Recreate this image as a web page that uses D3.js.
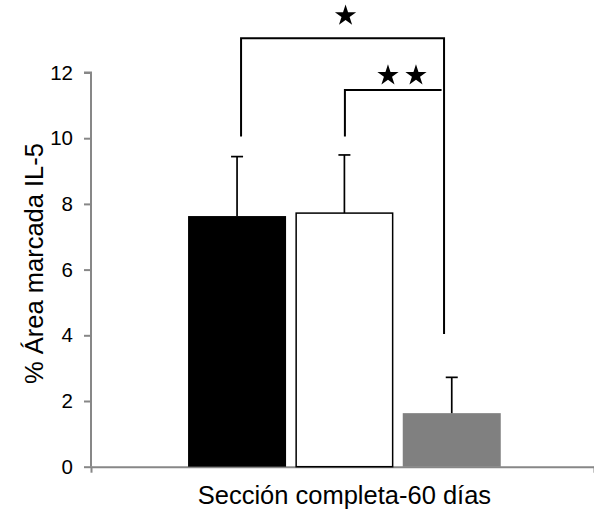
<!DOCTYPE html>
<html>
<head>
<meta charset="utf-8">
<script src="https://cdn.jsdelivr.net/npm/d3@7"></script>
<style>
  html, body { margin: 0; padding: 0; background: #fff; }
  svg { display: block; font-family: "Liberation Sans", Arial, sans-serif; }
</style>
</head>
<body>
<div id="chart"></div>
<script>
// data
const groups = ['Sección completa-60 días'];
const series = ['A', 'B', 'C'];
const means = [7.63, 7.72, 1.63];
const errors = [1.81, 1.77, 1.09];
const fills = ['#000000', '#ffffff', '#808080'];
const yTicks = [0, 2, 4, 6, 8, 10, 12];
const yLabel = '% Área marcada IL-5';
// significance brackets: from bar, to bar, bracket level, leg bottoms (in % units)
const brackets = [
  {from: 0, to: 2, level: 13.04, fromEnd: 10.05, toEnd: 4.04, stars: 1, markLevel: 13.73},
  {from: 1, to: 2, level: 11.47, fromEnd: 10.05, toEnd: 11.47, stars: 2, markLevel: 11.91}
];

const W = 594, H = 516;
const svg = d3.select('#chart').append('svg').attr('width', W).attr('height', H);

const x0 = d3.scaleBand().domain(groups).range([91, 594]).paddingInner(0).paddingOuter(0.3043).align(0.51);
const x1 = d3.scaleBand().domain(series).range([0, x0.bandwidth()]).paddingInner(0.087).paddingOuter(0);
const y = d3.scaleLinear().domain([0, 12]).range([466.7, 72.5]);

const axisColor = '#878787';

// y axis
const gy = svg.append('g').attr('transform', 'translate(91,0)')
  .call(d3.axisLeft(y).tickValues(yTicks).tickSize(7).tickPadding(11).tickFormat(d3.format('d')));
gy.selectAll('path, line').attr('stroke', axisColor).attr('stroke-width', 2);
gy.select('.domain').attr('d', `M-7,${y(12)}H0V${y(0)}`);
gy.selectAll('text').attr('font-size', 20.5).attr('fill', '#000')
  .attr('font-family', '"Liberation Sans", Arial, sans-serif');

// x axis: category boundaries
const xb = d3.scaleLinear().domain([0, 1]).range([91, 594]);
const gx = svg.append('g').attr('transform', `translate(0,${y(0)})`)
  .call(d3.axisBottom(xb).tickValues([0, 1]).tickSize(6).tickSizeOuter(0).tickFormat(''));
gx.selectAll('path, line').attr('stroke', axisColor).attr('stroke-width', 2);

svg.append('text')
  .attr('x', x0(groups[0]) + x0.bandwidth() / 2).attr('y', 504)
  .attr('text-anchor', 'middle').attr('font-size', 25.5).attr('fill', '#000')
  .text(groups[0]);

svg.append('text')
  .attr('transform', `translate(43,263.5) rotate(-90)`)
  .attr('text-anchor', 'middle').attr('font-size', 25.5).attr('fill', '#000')
  .text(yLabel);

// bars
const data = series.map((s, i) => ({s, i, v: means[i], e: errors[i], fill: fills[i]}));
const gBars = svg.append('g').attr('transform', `translate(${x0(groups[0])},0)`);

gBars.selectAll('rect').data(data).enter().append('rect')
  .attr('x', d => x1(d.s) + (d.i === 1 ? 0.75 : 0))
  .attr('width', d => x1.bandwidth() - (d.i === 1 ? 1.5 : 0))
  .attr('y', d => y(d.v))
  .attr('height', d => y(0) - y(d.v))
  .attr('fill', d => d.fill)
  .attr('stroke', d => d.i === 1 ? '#000' : 'none')
  .attr('stroke-width', 1.5);

// error bars (upper only)
const cx = d => x1(d.s) + x1.bandwidth() / 2;
gBars.selectAll('line.err').data(data).enter().append('line').attr('class', 'err')
  .attr('x1', cx).attr('x2', cx)
  .attr('y1', d => y(d.v)).attr('y2', d => y(d.v + d.e))
  .attr('stroke', '#000').attr('stroke-width', 1.7);
gBars.selectAll('line.cap').data(data).enter().append('line').attr('class', 'cap')
  .attr('x1', d => cx(d) - 6).attr('x2', d => cx(d) + 6)
  .attr('y1', d => y(d.v + d.e)).attr('y2', d => y(d.v + d.e))
  .attr('stroke', '#000').attr('stroke-width', 1.7);

// brackets
const legShift = [4, 0.5, -7.7];
const legX = i => x0(groups[0]) + x1(series[i]) + x1.bandwidth() / 2 + legShift[i];
const gBr = svg.append('g').attr('fill', 'none').attr('stroke', '#000').attr('stroke-width', 2);
brackets.forEach(b => {
  const xa = legX(b.from), xz = legX(b.to) - (b.from === 1 ? 2.5 : 0);
  gBr.append('path')
    .attr('d', `M${xa},${y(b.fromEnd)}V${y(b.level)}H${xz}V${y(b.toEnd)}`);
});

// stars
const star = d3.symbol().type(d3.symbolStar).size(140);
brackets.forEach(b => {
  const mx = (legX(b.from) + legX(b.to)) / 2 + (b.stars === 1 ? 3 : 7.5);
  d3.range(b.stars).forEach(k => {
    const dx = (k - (b.stars - 1) / 2) * 28;
    svg.append('path').attr('d', star)
      .attr('transform', `translate(${mx + dx},${y(b.markLevel)})`)
      .attr('fill', '#000');
  });
});
</script>
</body>
</html>
